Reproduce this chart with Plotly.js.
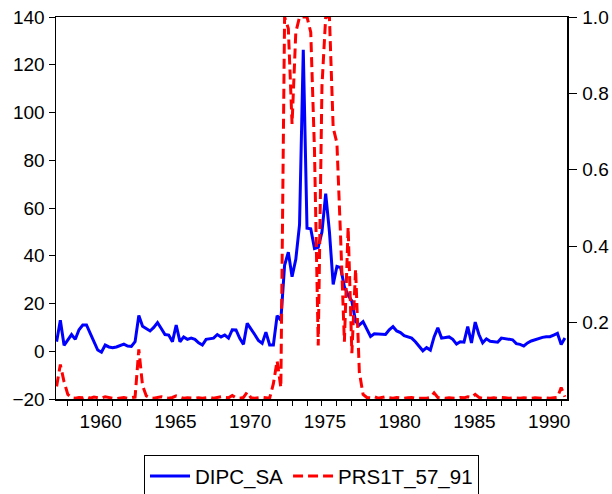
<!DOCTYPE html>
<html>
<head>
<meta charset="utf-8">
<script src="https://cdn.plot.ly/plotly-3.0.1.min.js"></script>
<style>html,body{margin:0;padding:0;background:#fff;}#chart{width:612px;height:494px;}</style>
</head>
<body>
<div id="chart"></div>
<script>
// Quarterly data, first observation 1957Q2
const startYear = 1957;
const startQuarter = 2;

const dipcSA = [
  4, 13, 2.5, 5, 7, 5, 9, 11, 11, 7.5,
  4, 0.5, -0.4, 2.6, 1.8, 1.5, 1.8, 2.5, 3, 2.2,
  2, 4, 15, 10.5, 9.5, 8.5, 10, 12, 9.5, 7,
  6.8, 4, 11, 4, 6, 5, 5.5, 5, 3.5, 2.6,
  5, 5.3, 5.5, 7, 6, 6.8, 5.5, 9, 8.9, 5.4,
  2.9, 11.7, 9.5, 7, 4.5, 3.3, 8, 2.6, 2.6, 14.9,
  13, 36, 41.5, 31.2, 38.5, 53, 126.3, 51.5, 51.3, 43,
  43.5, 50, 66, 50, 28, 35.5, 35, 27, 23.5, 21,
  12.5, 11, 12.4, 9, 6.2, 7.3, 7.2, 6.8, 7, 9,
  10.3, 8.5, 7.8, 6.5, 6, 5.5, 4, 2.3, 0.2, 1.5,
  0.5, 6, 9.8, 5.5, 5.8, 6, 5, 3, 4, 3.8,
  10.3, 3.5, 12.2, 7, 3.5, 5.2, 4.2, 4, 3.8, 5.5,
  5.3, 5.1, 4.8, 3.2, 2.9, 2.2, 3.5, 4.3, 4.9, 5.4,
  5.8, 6.1, 6.1, 6.8, 7.5, 2.8, 5.5
];

const prs1t = [
  0.033, 0.09, 0.045, 0.012, 0.003, 0.002, 0.004, 0.003, 0.006, 0.002,
  0.005, 0.004, 0.002, 0.006, 0.003, 0.002, 0.001, 0.002, 0.004, 0.002,
  0.003, 0.005, 0.13, 0.035, 0.008, 0.003, 0.002, 0.004, 0.006, 0.003,
  0.002, 0.004, 0.008, 0.005, 0.002, 0.003, 0.002, 0.002, 0.003, 0.002,
  0.003, 0.004, 0.002, 0.003, 0.006, 0.004, 0.003, 0.009, 0.003, 0.002,
  0.004, 0.018, 0.003, 0.002, 0.003, 0.004, 0.003, 0.002, 0.04, 0.1,
  0.03, 1.0, 0.97, 0.72, 0.96, 1.0, 1.0, 1.0, 0.96, 0.65,
  0.14, 0.82, 1.0, 1.0, 0.71, 0.67, 0.42, 0.15, 0.45, 0.12,
  0.34, 0.07, 0.012, 0.004, 0.003, 0.006, 0.002, 0.003, 0.006, 0.003,
  0.002, 0.004, 0.003, 0.002, 0.003, 0.004, 0.002, 0.002, 0.003, 0.002,
  0.004, 0.016, 0.004, 0.003, 0.002, 0.003, 0.003, 0.002, 0.004, 0.003,
  0.006, 0.004, 0.012, 0.004, 0.002, 0.003, 0.002, 0.003, 0.002, 0.004,
  0.003, 0.002, 0.003, 0.002, 0.002, 0.003, 0.002, 0.002, 0.003, 0.002,
  0.002, 0.003, 0.002, 0.003, 0.004, 0.03, 0.006
];

const seriesNames = ["DIPC_SA", "PRS1T_57_91"];
const xTickVals = [1960, 1965, 1970, 1975, 1980, 1985, 1990];
const xTickText = ["1960", "1965", "1970", "1975", "1980", "1985", "1990"];
const y2TickVals = [0.2, 0.4, 0.6, 0.8, 1.0];
const y2TickText = ["0.2", "0.4", "0.6", "0.8", "1.0"];

const xPeriods = dipcSA.map((_, i) => startYear + (startQuarter - 1 + i) / 4);

const FONT = "Liberation Sans, Arial, sans-serif";

const traces = [
  {
    x: xPeriods, y: dipcSA, name: seriesNames[0], type: "scatter", mode: "lines",
    line: {color: "#0000ff", width: 3}, yaxis: "y"
  },
  {
    x: xPeriods, y: prs1t, name: seriesNames[1], type: "scatter", mode: "lines",
    line: {color: "#ff0000", width: 3, dash: "10px,5px"}, yaxis: "y2"
  }
];

const layout = {
  width: 612, height: 494,
  margin: {l: 56, r: 45, t: 17, b: 95, autoexpand: false},
  paper_bgcolor: "#fff", plot_bgcolor: "#fff",
  font: {family: FONT, size: 19, color: "#000"},
  showlegend: true,
  legend: {
    orientation: "h", x: 0.5, xanchor: "center", y: -0.147, yanchor: "top",
    bordercolor: "#000", borderwidth: 1, bgcolor: "#fff",
    itemwidth: 40,
    font: {family: FONT, size: 20.5, color: "#000"}
  },
  xaxis: {
    range: [1957.21, 1991.39],
    tickvals: xTickVals, ticktext: xTickText,
    ticks: "outside", ticklen: 5, tickcolor: "#000", tickwidth: 1,
    ticklabelshift: 3,
    minor: {dtick: 1, tick0: 1960, ticks: "outside", ticklen: 5, tickcolor: "#000", showgrid: false},
    showline: true, linecolor: "#000", linewidth: 1.5, mirror: true,
    showgrid: false, zeroline: false,
    tickfont: {family: FONT, size: 19, color: "#000"}
  },
  yaxis: {
    range: [-20, 140], dtick: 20, tick0: 0,
    ticks: "outside", ticklen: 6, tickcolor: "#000",
    showline: true, linecolor: "#000", linewidth: 1.5,
    showgrid: false, zeroline: false,
    tickfont: {family: FONT, size: 19, color: "#000"}
  },
  yaxis2: {
    range: [0, 1], overlaying: "y", side: "right",
    tickvals: y2TickVals, ticktext: y2TickText,
    ticks: "outside", ticklen: 8, tickcolor: "#000",
    ticklabelstandoff: 2,
    showline: true, linecolor: "#000", linewidth: 1.5,
    showgrid: false, zeroline: false,
    tickfont: {family: FONT, size: 19, color: "#000"}
  }
};

Plotly.newPlot("chart", traces, layout, {staticPlot: true, displayModeBar: false});
</script>
</body>
</html>
